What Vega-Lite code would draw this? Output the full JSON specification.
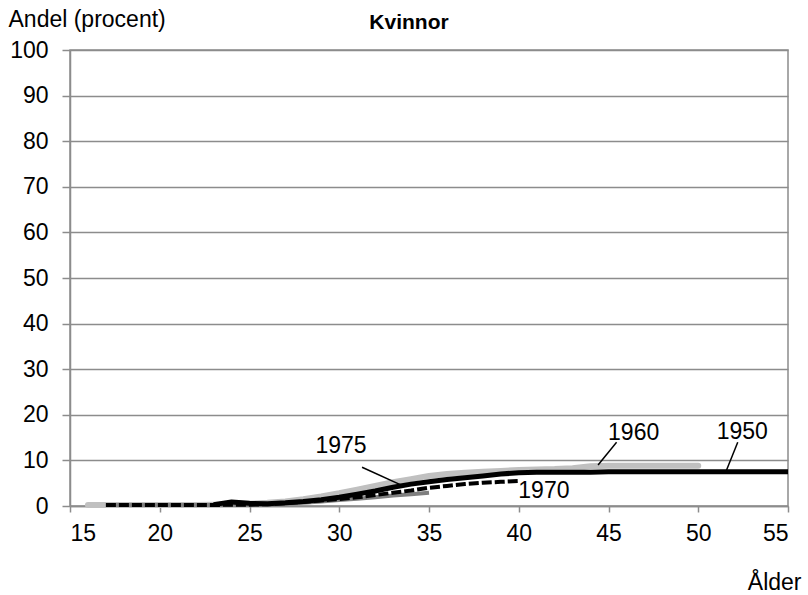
{
  "$schema": "https://vega.github.io/schema/vega-lite/v6.json",
  "width": 718,
  "height": 456,
  "autosize": "none",
  "padding": {"left": 70, "top": 50, "right": 20, "bottom": 89},
  "background": "white",
  "config": {
    "font": "Liberation Sans",
    "view": {"stroke": "#8c8c8c", "strokeWidth": 1.5}
  },
  "title": {"text": "Kvinnor", "fontSize": 21, "fontWeight": "bold", "anchor": "middle", "dx": -20, "dy": 40, "baseline": "middle", "color": "black", "font": "Liberation Sans"},
  "datasets": {
    "c1950": [
      {"age": 23, "value": 0.3},
      {"age": 24, "value": 0.9}, {"age": 25, "value": 0.6}, {"age": 26, "value": 0.5}, {"age": 27, "value": 0.7},
      {"age": 28, "value": 1.0}, {"age": 29, "value": 1.4}, {"age": 30, "value": 1.9}, {"age": 31, "value": 2.6},
      {"age": 32, "value": 3.3}, {"age": 33, "value": 4.1}, {"age": 34, "value": 4.8}, {"age": 35, "value": 5.3},
      {"age": 36, "value": 5.8}, {"age": 37, "value": 6.2}, {"age": 38, "value": 6.6}, {"age": 39, "value": 7.0},
      {"age": 40, "value": 7.3}, {"age": 41, "value": 7.4}, {"age": 42, "value": 7.4}, {"age": 43, "value": 7.4},
      {"age": 44, "value": 7.4}, {"age": 45, "value": 7.5}, {"age": 46, "value": 7.5}, {"age": 47, "value": 7.5},
      {"age": 48, "value": 7.5}, {"age": 49, "value": 7.5}, {"age": 50, "value": 7.5}, {"age": 51, "value": 7.5},
      {"age": 52, "value": 7.5}, {"age": 53, "value": 7.5}, {"age": 54, "value": 7.5}, {"age": 55, "value": 7.5}
    ],
    "c1960": [
      {"age": 16, "value": 0.2}, {"age": 17, "value": 0.2}, {"age": 18, "value": 0.2}, {"age": 19, "value": 0.2},
      {"age": 20, "value": 0.2}, {"age": 21, "value": 0.2}, {"age": 22, "value": 0.2}, {"age": 23, "value": 0.3},
      {"age": 24, "value": 0.4}, {"age": 25, "value": 0.5}, {"age": 26, "value": 0.7}, {"age": 27, "value": 1.0},
      {"age": 28, "value": 1.5}, {"age": 29, "value": 2.1}, {"age": 30, "value": 2.8}, {"age": 31, "value": 3.6},
      {"age": 32, "value": 4.4}, {"age": 33, "value": 5.2}, {"age": 34, "value": 5.9}, {"age": 35, "value": 6.6},
      {"age": 36, "value": 7.0}, {"age": 37, "value": 7.3}, {"age": 38, "value": 7.5}, {"age": 39, "value": 7.7},
      {"age": 40, "value": 7.9}, {"age": 41, "value": 8.0}, {"age": 42, "value": 8.1}, {"age": 43, "value": 8.3},
      {"age": 44, "value": 8.7}, {"age": 45, "value": 8.8}, {"age": 46, "value": 8.8}, {"age": 47, "value": 8.8},
      {"age": 48, "value": 8.8}, {"age": 49, "value": 8.8}, {"age": 50, "value": 8.8}
    ],
    "c1970": [
      {"age": 17, "value": 0.2}, {"age": 18, "value": 0.2}, {"age": 19, "value": 0.2}, {"age": 20, "value": 0.2},
      {"age": 21, "value": 0.2}, {"age": 22, "value": 0.2}, {"age": 23, "value": 0.2}, {"age": 24, "value": 0.3},
      {"age": 25, "value": 0.3}, {"age": 26, "value": 0.4}, {"age": 27, "value": 0.6}, {"age": 28, "value": 0.9},
      {"age": 29, "value": 1.2}, {"age": 30, "value": 1.5}, {"age": 31, "value": 1.9}, {"age": 32, "value": 2.4},
      {"age": 33, "value": 2.9}, {"age": 34, "value": 3.4}, {"age": 35, "value": 4.0}, {"age": 36, "value": 4.4},
      {"age": 37, "value": 4.8}, {"age": 38, "value": 5.1}, {"age": 39, "value": 5.3}, {"age": 40, "value": 5.5}
    ],
    "c1975": [
      {"age": 17, "value": 0.2}, {"age": 18, "value": 0.2}, {"age": 19, "value": 0.2}, {"age": 20, "value": 0.2},
      {"age": 21, "value": 0.2}, {"age": 22, "value": 0.2}, {"age": 23, "value": 0.2}, {"age": 24, "value": 0.2},
      {"age": 25, "value": 0.2}, {"age": 26, "value": 0.3}, {"age": 27, "value": 0.5}, {"age": 28, "value": 0.7},
      {"age": 29, "value": 1.0}, {"age": 30, "value": 1.3}, {"age": 31, "value": 1.6}, {"age": 32, "value": 1.9},
      {"age": 33, "value": 2.3}, {"age": 34, "value": 2.6}, {"age": 35, "value": 2.9}
    ],
    "labels": [
      {"age": 30.1, "value": 13.2, "label": "1975"},
      {"age": 41.4, "value": 3.2, "label": "1970"},
      {"age": 46.4, "value": 15.9, "label": "1960"},
      {"age": 52.45, "value": 16.3, "label": "1950"}
    ],
    "pointers": [
      {"age": 31.27, "value": 8.5, "age2": 33.55, "value2": 4.4},
      {"age": 45.45, "value": 14.0, "age2": 44.42, "value2": 9.0},
      {"age": 52.2, "value": 14.0, "age2": 51.55, "value2": 7.6}
    ]
  },
  "encoding": {
    "x": {
      "field": "age", "type": "quantitative",
      "scale": {"domain": [15, 55], "nice": false, "zero": false},
      "axis": {
        "values": [15, 20, 25, 30, 35, 40, 45, 50, 55],
        "grid": false,
        "domainColor": "#8c8c8c", "domainWidth": 1.5,
        "tickColor": "#8c8c8c", "tickWidth": 1.5, "tickSize": 6,
        "labelFontSize": 23, "labelColor": "black", "labelPadding": 10, "labelFont": "Liberation Sans",
        "title": "Ålder", "titleFontSize": 23, "titleFontWeight": "normal", "titleColor": "black", "titleFont": "Liberation Sans",
        "titleAlign": "right", "titleAnchor": null, "titleX": 731, "titleY": 76, "titleBaseline": "middle"
      }
    },
    "y": {
      "field": "value", "type": "quantitative",
      "scale": {"domain": [0, 100], "nice": false},
      "axis": {
        "values": [0, 10, 20, 30, 40, 50, 60, 70, 80, 90, 100],
        "grid": true, "gridColor": "#8c8c8c", "gridWidth": 1.5,
        "domainColor": "#8c8c8c", "domainWidth": 1.5,
        "tickColor": "#8c8c8c", "tickWidth": 1.5, "tickSize": 8,
        "labelFontSize": 23, "labelColor": "black", "labelPadding": 14, "labelFont": "Liberation Sans",
        "title": "Andel (procent)", "titleFontSize": 23, "titleFontWeight": "normal", "titleColor": "black", "titleFont": "Liberation Sans",
        "titleAngle": 0, "titleAlign": "left", "titleAnchor": null, "titleX": -62, "titleY": -31, "titleBaseline": "middle"
      }
    }
  },
  "layer": [
    {"data": {"name": "c1960"}, "mark": {"type": "line", "color": "#c0c0c0", "strokeWidth": 6, "strokeCap": "round", "strokeJoin": "round"}},
    {"data": {"name": "c1975"}, "mark": {"type": "line", "color": "#7f7f7f", "strokeWidth": 4, "strokeJoin": "round"}},
    {"data": {"name": "c1950"}, "mark": {"type": "line", "color": "black", "strokeWidth": 5, "strokeJoin": "round"}},
    {"data": {"name": "c1970"}, "mark": {"type": "line", "color": "black", "strokeWidth": 4, "strokeDash": [10, 3], "strokeJoin": "round"}},
    {"data": {"name": "pointers"}, "mark": {"type": "rule", "color": "black", "strokeWidth": 1.5},
      "encoding": {"x2": {"field": "age2"}, "y2": {"field": "value2"}}},
    {"data": {"name": "labels"}, "mark": {"type": "text", "fontSize": 23, "color": "black", "font": "Liberation Sans", "align": "center", "baseline": "middle"},
      "encoding": {"text": {"field": "label", "type": "nominal"}}}
  ]
}
